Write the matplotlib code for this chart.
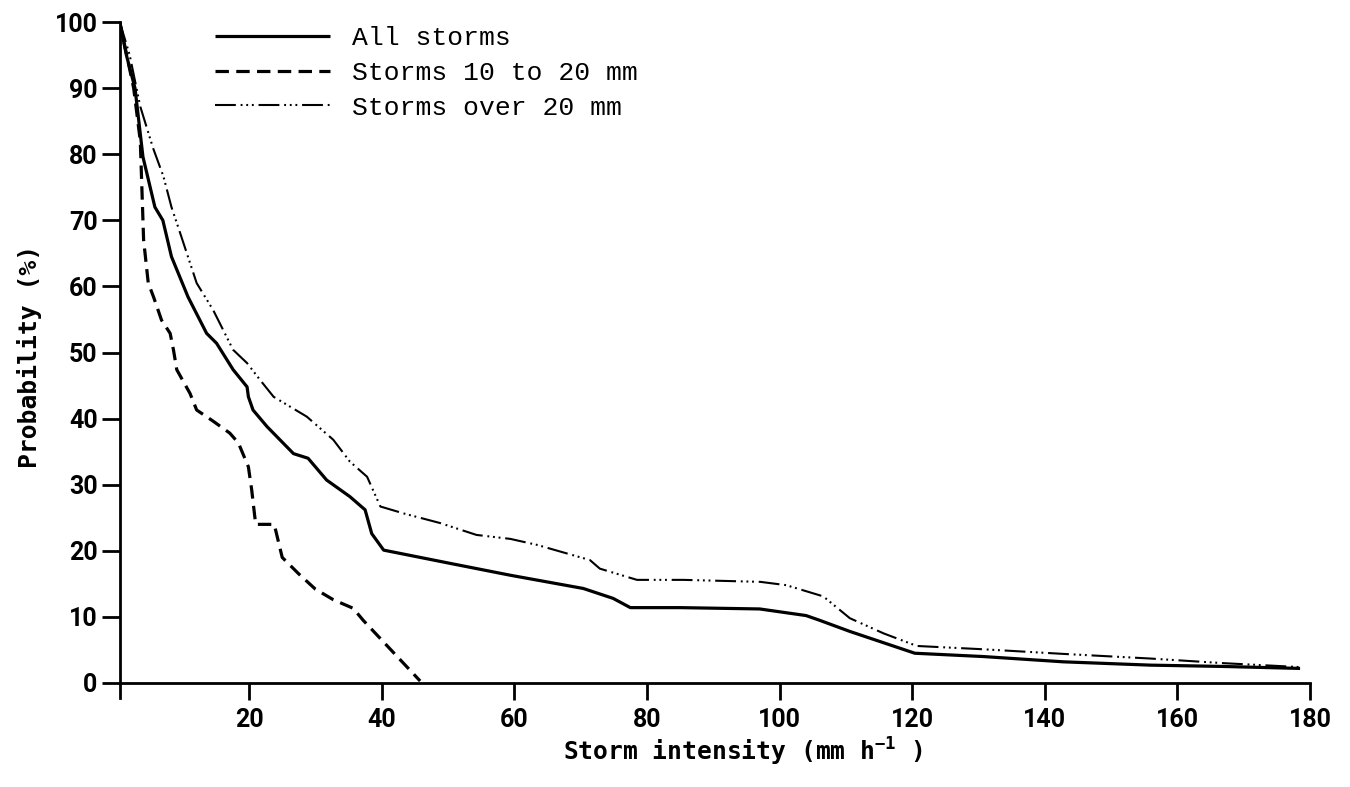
import matplotlib as mpl
mpl.use('Agg')
import matplotlib.pyplot as plt

plt.rcParams['mathtext.fontset'] = 'custom'
plt.rcParams['mathtext.rm'] = 'DejaVu Sans Mono:bold'
plt.rcParams['mathtext.it'] = 'DejaVu Sans Mono:bold'
plt.rcParams['mathtext.bf'] = 'DejaVu Sans Mono:bold'

all_x = [0.5, 1.5, 2.8, 4.0, 5.8, 7.0, 8.3, 10.8, 13.6, 15.1, 17.6, 19.7, 19.9, 20.6, 22.7,
         26.7, 28.9, 31.7, 35.2, 37.5, 38.5, 40.3, 50.3, 59.4, 70.4, 74.9, 77.5, 85.0,
         97.0, 104.0, 106.0, 110.6, 120.4, 130.7, 142.8, 155.9, 166.9, 178.5]
all_y = [100, 95, 90, 79.6, 72, 70, 64.5, 58.4, 52.9, 51.4, 47.4, 44.8, 43.3, 41.3, 38.8,
         34.7, 34.0, 30.7, 28.2, 26.2, 22.6, 20.1, 18.1, 16.3, 14.3, 12.8, 11.4, 11.4,
         11.2, 10.2, 9.5, 7.8, 4.5, 4.0, 3.2, 2.7, 2.5, 2.2]

mid_x = [0.5, 2.6, 3.6, 4.1, 4.8, 5.6, 6.8, 8.1, 8.6, 9.1, 11.1, 12.1, 14.6, 17.1, 18.4,
         19.9, 20.4, 21.0, 23.8, 25.0, 27.5, 30.0, 32.7, 35.7, 37.2, 45.8]
mid_y = [100, 90, 82, 67, 60.5, 58.4, 54.9, 52.9, 50.4, 47.4, 43.8, 41.3, 39.6, 37.8, 36.3,
         32.7, 29.2, 24.0, 24.0, 19.0, 16.5, 14.2, 12.6, 11.3, 9.5, 0.3]

big_x = [0.5, 2.0, 3.6, 5.5, 7.1, 8.3, 9.7, 12.1, 14.6, 16.6, 17.6, 19.7, 21.7, 23.7, 28.7,
         32.7, 35.2, 37.8, 39.8, 43.5, 48.8, 54.3, 59.4, 63.4, 71.4, 72.9, 78.5, 85.5,
         97.1, 101.0, 106.6, 110.6, 115.7, 120.7, 130.7, 142.8, 155.9, 166.9, 178.5]
big_y = [100, 95, 87.2, 81, 76.6, 72, 67.8, 60.5, 56.4, 52.4, 50.4, 48.4, 45.8, 43.3, 40.3,
         36.8, 33.5, 31.2, 26.7, 25.6, 24.2, 22.4, 21.8, 20.9, 18.6, 17.3, 15.6, 15.6,
         15.3, 14.8, 13.1, 9.8, 7.5, 5.6, 5.1, 4.4, 3.7, 3.0, 2.4]

labels = ["All storms", "Storms 10 to 20 mm", "Storms over 20 mm"]
xticks = [20, 40, 60, 80, 100, 120, 140, 160, 180]
yticks = [0, 10, 20, 30, 40, 50, 60, 70, 80, 90, 100]

fig = plt.figure(figsize=(13.5, 7.87), dpi=100)
ax = fig.add_axes([0.0887, 0.1137, 0.8817, 0.8583])

ax.plot(all_x, all_y, color='black', lw=2.3, solid_capstyle='butt', label=labels[0])
ax.plot(mid_x, mid_y, color='black', lw=2.3, linestyle=(0, (4.2, 2.3)), label=labels[1])
ax.plot(big_x, big_y, color='black', lw=1.5,
        linestyle=(0, (10, 2.3, 0.9, 1.8, 0.9, 1.8, 0.9, 2.3)), label=labels[2])

ax.set_xlim(0.5, 180)
ax.set_ylim(-2.2, 100)
ax.spines['top'].set_visible(False)
ax.spines['right'].set_visible(False)
ax.spines['bottom'].set_position(('data', 0))
ax.spines['left'].set_linewidth(2)
ax.spines['bottom'].set_linewidth(2)

ax.set_xticks(xticks)
ax.set_yticks(yticks)
ax.tick_params(axis='x', direction='out', length=12, width=2, pad=6)
ax.tick_params(axis='y', direction='out', length=13, width=2, pad=3)
for lab in ax.get_xticklabels() + ax.get_yticklabels():
    lab.set_fontfamily(['Roboto', 'DejaVu Sans'])
    lab.set_fontweight('bold')
    lab.set_fontsize(18)

ax.set_xlabel("Storm intensity (mm h$^{-1}$ )", fontfamily='DejaVu Sans Mono',
              fontweight='bold', fontsize=17.7)
ax.xaxis.set_label_coords(0.5237, -0.0807)
ax.xaxis.label.set_va('center')
ax.set_ylabel("Probability (%)", fontfamily='DejaVu Sans Mono', fontweight='bold',
              fontsize=17.7)
ax.yaxis.set_label_coords(-0.0754, 0.5056)
ax.yaxis.label.set_va('center')

leg = ax.legend(loc='upper left', bbox_to_anchor=(0.080, 0.994), frameon=False,
                prop={'family': 'Liberation Mono', 'size': 19},
                handlelength=4.36, handletextpad=0.83, labelspacing=0.41,
                borderpad=0, borderaxespad=0)

plt.savefig('out.png', dpi=100)
